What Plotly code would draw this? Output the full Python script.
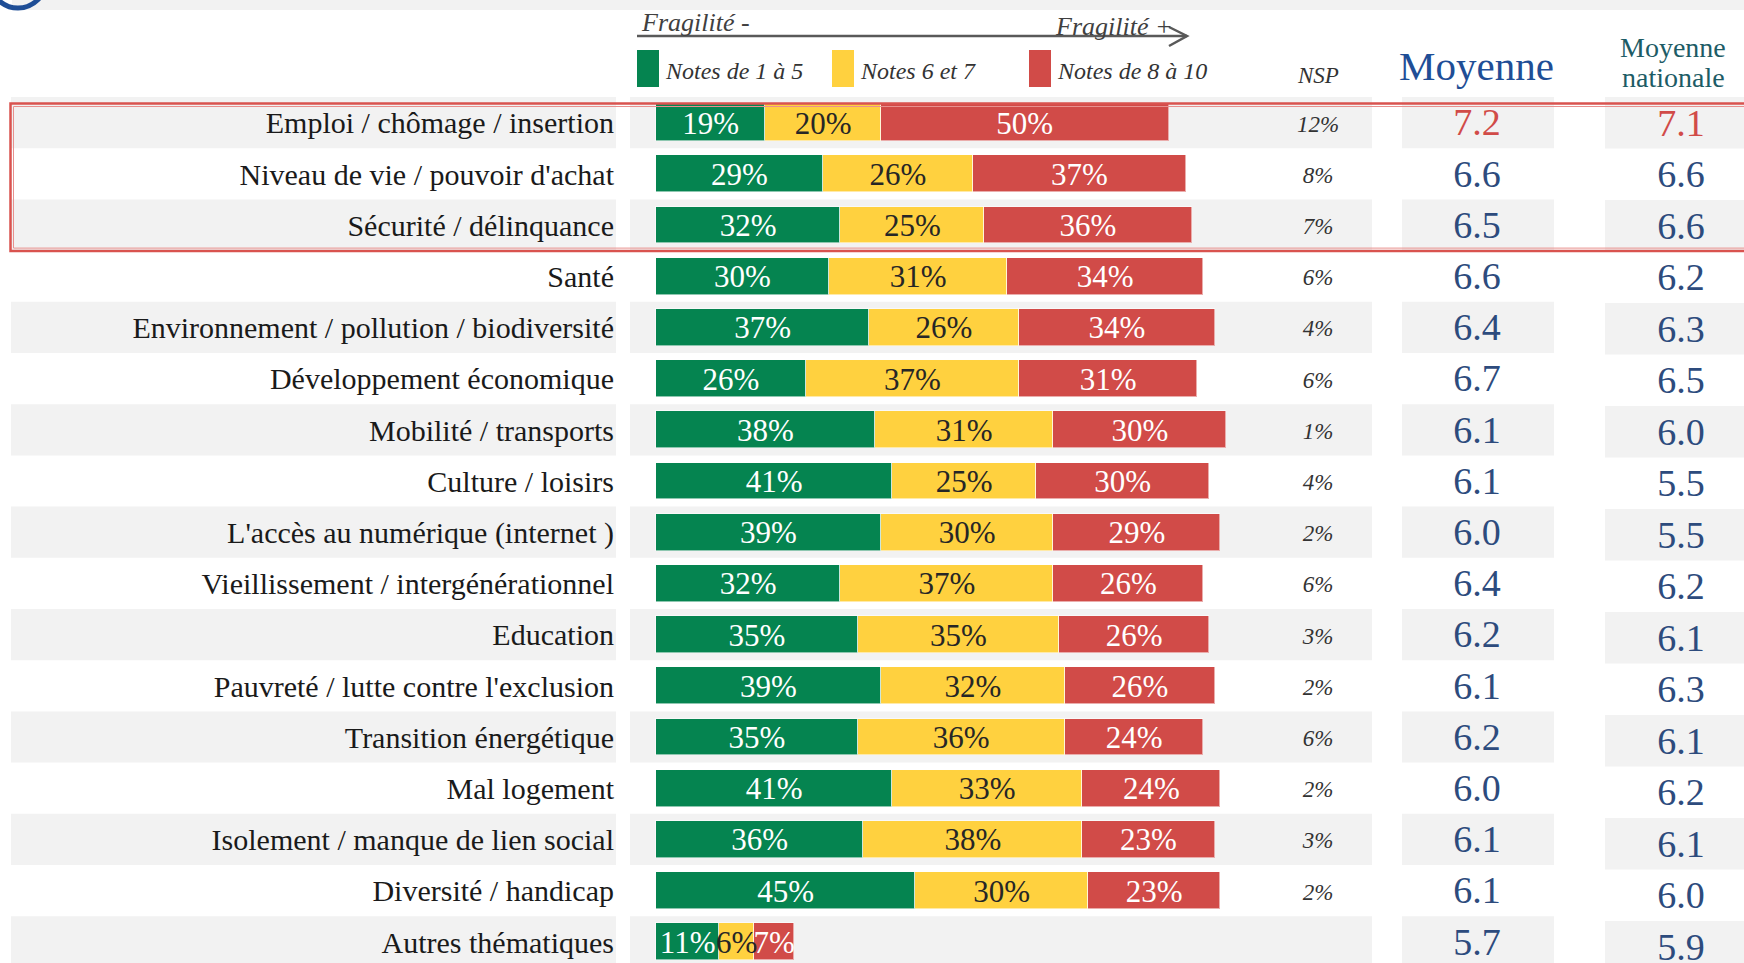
import plotly.graph_objects as go

# ---------------- data ----------------
categories = [
    "Emploi / chômage / insertion",
    "Niveau de vie / pouvoir d'achat",
    "Sécurité / délinquance",
    "Santé",
    "Environnement / pollution / biodiversité",
    "Développement économique",
    "Mobilité / transports",
    "Culture / loisirs",
    "L'accès au numérique (internet )",
    "Vieillissement / intergénérationnel",
    "Education",
    "Pauvreté / lutte contre l'exclusion",
    "Transition énergétique",
    "Mal logement",
    "Isolement / manque de lien social",
    "Diversité / handicap",
    "Autres thématiques",
]
notes_1_5 = [19, 29, 32, 30, 37, 26, 38, 41, 39, 32, 35, 39, 35, 41, 36, 45, 11]
notes_6_7 = [20, 26, 25, 31, 26, 37, 31, 25, 30, 37, 35, 32, 36, 33, 38, 30, 6]
notes_8_10 = [50, 37, 36, 34, 34, 31, 30, 30, 29, 26, 26, 26, 24, 24, 23, 23, 7]
nsp = [12, 8, 7, 6, 4, 6, 1, 4, 2, 6, 3, 2, 6, 2, 3, 2, None]
moyenne = [7.2, 6.6, 6.5, 6.6, 6.4, 6.7, 6.1, 6.1, 6.0, 6.4, 6.2, 6.1, 6.2, 6.0, 6.1, 6.1, 5.7]
moyenne_nationale = [7.1, 6.6, 6.6, 6.2, 6.3, 6.5, 6.0, 5.5, 5.5, 6.2, 6.1, 6.3, 6.1, 6.2, 6.1, 6.0, 5.9]
series_names = ["Notes de 1 à 5", "Notes 6 et 7", "Notes de 8 à 10"]
n_highlight = 3   # rows framed in red
n_red_values = 1  # rows whose averages are printed in red

# ---------------- styles / geometry ----------------
W, H = 1744, 963
FONT = "Liberation Serif"
GREEN, YELLOW, RED = "#058450", "#FFD13F", "#D14B48"
STRIPE = "#F2F2F2"
VAL_BLUE = "#2D4B7D"
ROW_TOP, ROW_H, NAT_ROW_H = 97.0, 51.2, 51.5
BAR_X0, PX_PCT = 656.0, 5.76
TEXT_DY = 0.065  # small downward nudge of texts (row units)
colors = [GREEN, YELLOW, RED]
txt_colors = ["white", "#262626", "white"]

n = len(categories)
idx = list(range(n))
tidx = [i + TEXT_DY for i in idx]

fig = go.Figure()

# stacked bars
series = [notes_1_5, notes_6_7, notes_8_10]
for name, vals, col in zip(series_names, series, colors):
    fig.add_trace(go.Bar(
        y=idx, x=vals, orientation="h", name=name, width=0.72,
        marker=dict(color=col, line=dict(color="rgba(255,255,255,0.55)", width=1)),
        hoverinfo="skip", showlegend=False, xaxis="x", yaxis="y"))

# bar labels (centred in each segment)
starts = [0] * n
for vals, tc in zip(series, txt_colors):
    cx = [s + v / 2 for s, v in zip(starts, vals)]
    fig.add_trace(go.Scatter(
        x=cx, y=tidx, mode="text", text=[f"{v}%" for v in vals],
        textposition="middle center",
        textfont=dict(family=FONT, size=31, color=tc),
        hoverinfo="skip", showlegend=False, xaxis="x", yaxis="y"))
    starts = [s + v for s, v in zip(starts, vals)]

# category labels
fig.add_trace(go.Scatter(
    x=[614] * n, y=tidx, mode="text", text=categories, textposition="middle left",
    textfont=dict(family=FONT, size=30, color="#1a1a1a"),
    hoverinfo="skip", showlegend=False, xaxis="x2", yaxis="y"))

# NSP
nsp_idx = [i for i in idx if nsp[i] is not None]
fig.add_trace(go.Scatter(
    x=[1318] * len(nsp_idx), y=[i + TEXT_DY for i in nsp_idx], mode="text",
    text=[f"{nsp[i]}%" for i in nsp_idx], textposition="middle center",
    textfont=dict(family=FONT, size=23, color="#333333", style="italic"),
    hoverinfo="skip", showlegend=False, xaxis="x2", yaxis="y"))

val_colors = [RED if i < n_red_values else VAL_BLUE for i in idx]

# Moyenne
fig.add_trace(go.Scatter(
    x=[1477] * n, y=tidx, mode="text",
    text=[f"{v:.1f}" for v in moyenne], textposition="middle center",
    textfont=dict(family=FONT, size=38, color=val_colors),
    hoverinfo="skip", showlegend=False, xaxis="x2", yaxis="y"))

# Moyenne nationale (column slightly offset in the source)
fig.add_trace(go.Scatter(
    x=[1681] * n, y=tidx, mode="text",
    text=[f"{v:.1f}" for v in moyenne_nationale], textposition="middle center",
    textfont=dict(family=FONT, size=38, color=val_colors),
    hoverinfo="skip", showlegend=False, xaxis="x2", yaxis="y2"))

shapes = []
# top band + logo arc
shapes.append(dict(type="rect", xref="x2", yref="y3", x0=12, x1=W + 5, y0=-5, y1=10,
                   fillcolor=STRIPE, line=dict(width=0), layer="below"))
shapes.append(dict(type="circle", xref="x2", yref="y3", x0=-10, x1=46, y0=-48, y1=8,
                   line=dict(color="#1F4E96", width=5), layer="above"))

# alternating stripes
for i in idx:
    if i % 2:
        continue
    t = ROW_TOP + ROW_H * i
    for x0, x1 in [(11, 616), (630, 1372), (1402, 1554)]:
        shapes.append(dict(type="rect", xref="x2", yref="y3", x0=x0, x1=x1,
                           y0=t, y1=t + ROW_H, fillcolor=STRIPE,
                           line=dict(width=0), layer="below"))
    tn = ROW_TOP + NAT_ROW_H * i
    shapes.append(dict(type="rect", xref="x2", yref="y3", x0=1605, x1=W + 5,
                       y0=tn, y1=tn + NAT_ROW_H, fillcolor=STRIPE,
                       line=dict(width=0), layer="below"))

# red frame around highlighted rows (double line)
box_top = ROW_TOP + 7
box_bot = ROW_TOP + ROW_H * n_highlight
shapes.append(dict(type="rect", xref="x2", yref="y3", x0=10.5, x1=W + 20,
                   y0=box_top - 0.5, y1=box_bot + 0.5,
                   line=dict(color="#D9534F", width=2.5), layer="above"))
shapes.append(dict(type="rect", xref="x2", yref="y3", x0=13.5, x1=W + 20,
                   y0=box_top + 2.5, y1=box_bot - 2.5,
                   line=dict(color="#E8908E", width=1), layer="above"))

# fragility arrow
shapes.append(dict(type="line", xref="x2", yref="y3", x0=637, x1=1187, y0=36, y1=36,
                   line=dict(color="#595959", width=2.5)))
shapes.append(dict(type="path", xref="x2", yref="y3",
                   path="M 1169 27 L 1187 36 L 1169 46",
                   line=dict(color="#595959", width=2.5)))

# legend squares
legend_x = [637, 832, 1029]
for lx, col in zip(legend_x, colors):
    shapes.append(dict(type="rect", xref="x2", yref="y3", x0=lx, x1=lx + 22,
                       y0=50, y1=87, fillcolor=col, line=dict(width=0)))

annotations = []
for lx, name in zip(legend_x, series_names):
    annotations.append(dict(x=lx + 26, y=71, xref="x2", yref="y3", text=name,
                            showarrow=False, xanchor="left", yanchor="middle",
                            font=dict(family=FONT, size=24, color="#333333", style="italic")))

annotations += [
    dict(x=639, y=22, xref="x2", yref="y3", text="Fragilité -", showarrow=False,
         xanchor="left", yanchor="middle",
         font=dict(family=FONT, size=26, color="#404040", style="italic")),
    dict(x=1053, y=26, xref="x2", yref="y3", text="Fragilité +", showarrow=False,
         xanchor="left", yanchor="middle",
         font=dict(family=FONT, size=26, color="#404040", style="italic")),
    dict(x=1318, y=75, xref="x2", yref="y3", text="NSP", showarrow=False,
         xanchor="center", yanchor="middle",
         font=dict(family=FONT, size=23, color="#333333", style="italic")),
    dict(x=1476, y=66, xref="x2", yref="y3", text="Moyenne", showarrow=False,
         xanchor="center", yanchor="middle",
         font=dict(family=FONT, size=41, color="#1F4E96")),
    dict(x=1673, y=47, xref="x2", yref="y3", text="Moyenne", showarrow=False,
         xanchor="center", yanchor="middle",
         font=dict(family=FONT, size=28, color="#1D5C66")),
    dict(x=1673, y=77, xref="x2", yref="y3", text="nationale", showarrow=False,
         xanchor="center", yanchor="middle",
         font=dict(family=FONT, size=28, color="#1D5C66")),
]

# axes: x = percentage scale of bars, x2 = page pixels; y = rows, y2 = rows (national col), y3 = pixels
y_range = [(H - (ROW_TOP + ROW_H / 2)) / ROW_H, -(ROW_TOP + ROW_H / 2) / ROW_H]
y2_range = [(H - (ROW_TOP + NAT_ROW_H / 2)) / NAT_ROW_H, -(ROW_TOP + NAT_ROW_H / 2) / NAT_ROW_H]
ax_common = dict(visible=False, fixedrange=True, showgrid=False, zeroline=False)

fig.update_layout(
    width=W, height=H, autosize=False,
    margin=dict(l=0, r=0, t=0, b=0, pad=0),
    paper_bgcolor="white", plot_bgcolor="white",
    barmode="stack", bargap=0,
    showlegend=False,
    xaxis=dict(range=[-BAR_X0 / PX_PCT, (W - BAR_X0) / PX_PCT], domain=[0, 1], **ax_common),
    xaxis2=dict(range=[0, W], domain=[0, 1], overlaying="x", **ax_common),
    yaxis=dict(range=y_range, domain=[0, 1], **ax_common),
    yaxis2=dict(range=y2_range, domain=[0, 1], overlaying="y", **ax_common),
    yaxis3=dict(range=[H, 0], domain=[0, 1], overlaying="y", **ax_common),
    shapes=shapes, annotations=annotations,
    font=dict(family=FONT),
)

fig.write_html("out.html", config={"displayModeBar": False},
               post_script="document.body.style.margin='0px';")
